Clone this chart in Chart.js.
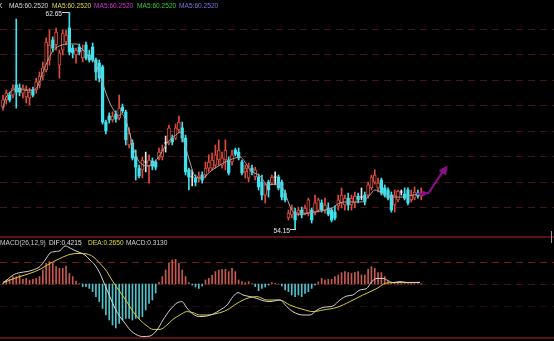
<!DOCTYPE html>
<html><head><meta charset="utf-8">
<script src="https://cdn.jsdelivr.net/npm/chart.js@4"></script>
<style>
html,body{margin:0;padding:0;background:#000;overflow:hidden}
#wrap{position:relative;width:554px;height:341px;background:#000}
#c1{position:absolute;left:0;top:0}
#c2{position:absolute;left:0;top:236px}
#tick{position:absolute;left:551px;top:231px;width:1px;height:12px;background:#9a9a9a}
</style></head><body>
<div id="wrap"><canvas id="c1" width="554" height="236"></canvas><canvas id="c2" width="554" height="105"></canvas><div id="tick"></div></div>
<script>
// ---------- data ----------
const opens = [58.93,59.21,59.40,59.40,59.80,59.68,59.48,59.33,59.29,59.60,
59.60,59.80,60.15,60.39,60.78,61.57,61.37,60.58,61.17,61.49,
62.04,61.25,60.98,61.29,60.86,61.37,60.98,61.29,60.78,60.66,
60.51,58.34,58.58,58.42,58.66,58.50,58.93,58.74,57.44,57.52,
56.97,56.53,56.46,56.77,56.61,56.81,56.77,56.93,56.97,57.52,
57.52,57.71,57.71,58.03,58.11,57.71,56.46,56.18,56.14,56.14,
56.26,56.26,56.53,56.53,56.65,56.85,56.65,56.85,56.85,56.77,
57.24,57.16,56.77,56.38,56.14,56.53,56.18,56.18,55.98,55.47,
55.98,55.94,56.18,56.18,55.98,55.55,54.57,54.69,54.80,54.76,
54.88,54.76,54.76,54.88,54.80,54.88,55.16,54.88,54.96,54.88,
54.80,55.04,55.16,55.08,55.35,55.08,55.16,55.43,55.39,55.47,
55.47,55.75,55.98,55.75,56.06,55.75,55.67,55.47,55.08,55.28,
55.59,55.51,55.67,55.28,55.35,55.55,55.43];
const closes = [59.21,59.48,59.21,59.68,59.52,59.52,59.68,59.60,59.52,59.40,
59.92,60.15,60.47,61.49,61.37,61.25,61.88,61.06,61.84,61.76,
61.10,61.06,61.17,61.10,61.17,60.86,60.78,60.78,60.31,60.07,
58.34,57.99,58.42,58.58,58.46,58.89,58.78,57.64,57.91,56.93,
56.57,56.22,56.85,56.77,56.85,56.61,56.57,57.16,57.24,57.52,
58.11,57.56,58.11,58.34,57.71,56.38,56.18,56.18,55.98,56.22,
56.06,56.53,56.77,56.85,57.05,57.24,56.93,57.24,56.34,57.05,
57.08,56.93,56.34,56.53,56.61,56.38,56.46,55.79,55.47,55.87,
55.67,56.18,56.18,55.75,55.39,55.28,54.76,54.96,54.49,54.88,
54.69,54.96,55.28,54.49,55.16,55.28,54.88,55.08,54.72,54.49,
54.57,55.28,55.47,55.35,55.08,55.35,55.43,55.28,55.39,55.20,
55.87,56.18,56.26,55.94,55.55,55.47,55.35,54.88,55.47,55.63,
55.59,55.35,55.16,55.47,55.59,55.43,55.55];
const highs = [59.40,59.60,59.52,59.80,62.39,59.84,59.80,59.76,59.68,59.72,
60.07,60.31,60.70,61.65,61.96,61.69,62.04,61.17,61.96,61.96,
62.65,61.37,61.25,61.41,61.37,61.49,61.17,61.45,60.86,60.78,
60.58,58.42,58.70,58.74,58.78,59.40,59.05,58.81,58.11,57.64,
57.24,56.65,56.97,57.16,57.05,56.93,56.85,57.32,57.44,57.79,
58.22,57.83,58.26,58.58,58.34,57.83,56.53,56.46,56.26,56.38,
56.38,56.77,57.05,57.12,57.44,57.64,57.16,57.64,56.97,57.24,
57.32,57.32,56.85,56.65,56.73,56.65,56.57,56.30,56.26,55.94,
56.06,56.26,56.38,56.26,56.06,55.67,54.88,55.08,54.96,55.00,
55.00,55.08,55.35,54.96,55.47,55.35,55.28,55.35,55.16,54.96,
55.04,55.47,55.75,55.47,55.55,55.47,55.59,55.55,55.75,55.59,
55.98,56.26,56.46,56.14,56.14,55.87,55.75,55.59,55.67,55.67,
55.67,55.75,55.75,55.67,55.79,55.67,55.75];
const lows = [58.81,59.05,59.13,59.29,58.89,59.37,59.29,59.09,59.01,59.33,
59.48,59.68,59.99,60.31,60.58,61.10,61.17,60.07,60.98,61.37,
60.98,60.86,60.66,60.98,60.70,60.78,60.70,60.70,59.99,59.92,
58.26,57.87,58.30,58.34,58.34,58.42,58.70,57.44,57.32,56.85,
56.06,56.14,56.14,56.38,55.94,56.46,56.46,56.85,56.85,57.16,
57.44,57.44,57.64,57.91,57.56,56.26,55.67,55.83,55.83,55.98,
55.94,56.14,56.38,56.46,56.53,56.65,56.53,56.46,56.26,56.65,
57.01,56.85,56.26,56.14,55.98,56.26,56.06,55.67,55.28,55.16,
55.39,55.87,55.87,55.67,55.28,55.20,54.49,54.57,54.15,54.65,
54.57,54.69,54.65,54.37,54.69,54.80,54.80,54.76,54.65,54.41,
54.49,54.88,54.96,54.88,54.88,54.88,54.96,55.16,55.28,55.08,
55.35,55.67,55.90,55.59,55.47,55.39,55.28,54.80,54.80,55.20,
55.47,55.28,55.08,55.20,55.28,55.35,55.28];

// moving average line, read at these candle positions
const maIdx = [0,0.6,2.1,4.2,6.6,9.0,10.5,11.7,13.3,14.8,16.3,17.8,19.3,20.8,22.3,23.2,24.7,26.2,27.7,29.2,30.7,32.2,33.7,34.6,35.8,37.0,38.3,39.5,40.7,42.2,43.7,44.9,46.7,48.2,49.7,50.9,52.1,53.3,54.8,56.3,57.8,59.3,60.8,62.3,63.9,65.4,66.9,68.4,69.9,71.4,72.9,74.4,77.4,79.8,81.9,83.4,84.9,87.0,88.6,90.4,91.9,95.5,99.1,101.5,104.5,108.1,110.5,112.0,114.2,116.0,119.6,123.5,125.6];
const maVal = [58.89,59.21,59.52,59.64,59.60,59.60,59.76,60.19,60.70,61.10,61.29,61.37,61.41,61.41,61.41,61.29,61.10,60.86,60.70,60.19,59.60,59.09,58.74,58.58,58.66,58.42,57.83,57.24,56.85,56.65,56.61,56.69,56.93,57.24,57.56,57.71,57.83,57.95,57.44,56.77,56.22,56.14,56.18,56.38,56.53,56.65,56.77,56.85,56.93,56.97,56.77,56.46,56.22,55.87,55.90,55.90,55.55,54.88,54.72,54.72,54.76,54.84,54.96,55.16,55.20,55.20,55.47,55.67,55.55,55.39,55.39,55.47,55.51];

// MACD
const macdHist = [0.05,0.2,0.23,0.37,0.37,0.45,0.23,0.28,0.2,0.23,
0.28,0.37,0.7,1.03,1.12,1.03,0.87,0.78,0.78,0.9,
0.53,0.37,0.15,0.02,-0.13,-0.13,-0.22,-0.38,-0.63,-0.88,
-1.22,-1.55,-1.8,-2.05,-2.2,-1.97,-1.8,-1.72,-1.72,-1.8,
-1.72,-1.72,-1.63,-1.3,-0.97,-0.8,-0.45,0.08,0.37,0.7,
1.03,1.2,1.23,1.03,0.7,0.37,0.07,-0.05,-0.15,-0.22,
-0.1,0.2,0.28,0.45,0.62,0.7,0.73,0.73,0.62,0.78,
0.62,0.2,0.12,0.07,0.12,0.02,-0.13,-0.33,-0.22,-0.15,
-0.05,0.07,0.03,0.0,-0.1,-0.3,-0.38,-0.55,-0.63,-0.55,
-0.63,-0.47,-0.38,-0.22,-0.05,0.1,0.28,0.2,0.23,0.23,
0.37,0.45,0.57,0.62,0.57,0.53,0.57,0.62,0.45,0.45,
0.73,0.87,0.78,0.57,0.57,0.37,0.12,0.03,0.05,0.05,
0.02,0.03,0.02,0.02,0.01,0.02,0.02];
const difIdx = [0,1.2,3.0,5.1,7.2,9.0,11.1,12.7,14.2,15.7,17.2,18.7,20.2,21.7,23.2,24.7,26.2,27.7,29.2,30.7,32.2,33.7,35.2,36.7,38.3,40.4,42.2,44.3,46.4,48.2,50.3,52.4,53.9,55.4,57.2,59.3,61.4,63.3,65.4,67.5,69.3,70.8,72.3,74.4,76.5,78.3,80.4,83.4,85.5,87.3,90.4,92.5,94.6,96.4,99.4,101.5,103.6,105.4,107.5,109.6,111.1,112.7,114.5,116.0,117.5,119.6,121.7,123.5,125.6];
const difVal = [0.08,0.2,0.45,0.57,0.62,0.7,0.87,1.2,1.55,1.62,1.67,1.9,1.8,1.67,1.57,1.45,1.2,0.95,0.53,-0.05,-0.63,-1.2,-1.63,-1.95,-2.3,-2.55,-2.63,-2.6,-2.3,-1.8,-1.3,-0.95,-0.88,-1.2,-1.5,-1.63,-1.6,-1.5,-1.3,-1.05,-0.63,-0.43,-0.55,-0.63,-0.72,-0.83,-0.88,-0.8,-1.13,-1.38,-1.55,-1.55,-1.3,-1.17,-1.1,-0.8,-0.6,-0.55,-0.3,-0.22,0.12,0.28,0.28,0.17,0.07,0.12,0.07,0.07,0.08];
const deaIdx = [0,2.1,5.1,8.1,11.1,14.2,17.2,20.2,23.2,25.3,27.1,29.2,31.3,33.1,35.2,37.3,39.2,41.3,43.4,45.2,47.3,49.4,51.2,53.3,55.4,57.2,59.3,61.4,64.5,67.5,70.5,73.5,76.5,79.5,83.4,86.4,90.4,93.4,96.4,100.6,104.5,108.4,112.7,115.1,117.5,120.5,125.6];
const deaVal = [0.05,0.2,0.37,0.53,0.73,1.03,1.28,1.48,1.53,1.5,1.37,1.03,0.62,0.12,-0.38,-0.88,-1.38,-1.8,-2.1,-2.27,-2.27,-2.05,-1.77,-1.55,-1.38,-1.43,-1.55,-1.55,-1.47,-1.3,-0.97,-0.72,-0.63,-0.8,-0.8,-1.05,-1.27,-1.38,-1.3,-1.17,-0.88,-0.55,-0.22,0.03,0.07,0.08,0.08];

// labels / ticks
const maLegend = ['MA5:60.2520','MA5:60.2520','MA5:60.2520','MA5:60.2520','MA5:60.2520'];
const macdLegend = ['MACD(26,12,9)','DIF:0.4215','DEA:0.2650','MACD:0.3130'];
const priceGridTicks = [62,61,60,59,58,57,56,55];
const macdGridTicks = [1.1,0,-1.1];
// forecast arrow annotation (candle index, price)
const arrowIdx = [124.7,128.2,133.3];
const arrowPrice = [55.51,55.55,56.55];

// ---------- styles ----------
const UP='#e04c3c', DN='#3fe2ee', DOJI='#e6e6e6';
const FONT='6.6px "Liberation Sans", Arial, sans-serif';

const idx = closes.map((_, i) => i);
const isUp = i => closes[i] > opens[i];
const isDown = i => closes[i] < opens[i];
const isDoji = i => closes[i] === opens[i];

const gridPlugin = {
  id:'paneGrid',
  beforeDatasetsDraw(chart, args, opts){
    const {ctx, chartArea:{left,right}, scales:{y}} = chart;
    ctx.save();
    (opts.lines||[]).forEach(l=>{
      const w = l.width||1;
      const py = Math.round(y.getPixelForValue(l.value)) + (w%2 ? 0.5 : 0);
      ctx.strokeStyle = l.color; ctx.lineWidth = w; ctx.setLineDash(l.dash||[]);
      ctx.beginPath(); ctx.moveTo(left, py); ctx.lineTo(right, py); ctx.stroke();
    });
    ctx.restore();
  }
};

const priceText = {
  id:'priceText',
  afterDraw(chart){
    const {ctx, scales:{x,y}} = chart;
    ctx.save();
    ctx.font = FONT; ctx.textBaseline='alphabetic';
    ctx.fillStyle='#e0e0e0'; ctx.fillText('K', -2, 8);
    const cols=['#d8d8d8','#e0dc3c','#d830d8','#3cc83c','#7878e0'];
    const xs=[9,52,94,137,179];
    maLegend.forEach((t,k)=>{ctx.fillStyle=cols[k]; ctx.fillText(t, xs[k], 8);});
    // high / low labels
    let hi=0, lo=0;
    idx.forEach(i=>{ if(highs[i]>highs[hi]) hi=i; if(lows[i]<lows[lo]) lo=i; });
    ctx.strokeStyle='#d0d0d0'; ctx.fillStyle='#e6e6e6'; ctx.lineWidth=1;
    const hx = Math.round(x.getPixelForValue(hi)), hy = Math.round(y.getPixelForValue(highs[hi]))+0.5;
    ctx.beginPath(); ctx.moveTo(hx-7, hy); ctx.lineTo(hx, hy); ctx.stroke();
    ctx.textAlign='right'; ctx.fillText(highs[hi].toFixed(2), hx-7, hy+3);
    const lx = Math.round(x.getPixelForValue(lo)), ly = Math.round(y.getPixelForValue(lows[lo]))+0.5;
    ctx.beginPath(); ctx.moveTo(lx-5, ly); ctx.lineTo(lx+1, ly); ctx.stroke();
    ctx.fillText(lows[lo].toFixed(2), lx-5, ly+3);
    ctx.restore();
  }
};

const arrowPlugin = {
  id:'arrow',
  afterDatasetsDraw(chart){
    const {ctx, scales:{x,y}} = chart;
    const pts = arrowIdx.map((v,k)=>[x.getPixelForValue(v), y.getPixelForValue(arrowPrice[k])]);
    ctx.save();
    ctx.strokeStyle='#8e0c8e'; ctx.fillStyle='#8e0c8e'; ctx.lineWidth=2; ctx.lineJoin='round';
    ctx.beginPath(); ctx.moveTo(pts[0][0],pts[0][1]); ctx.lineTo(pts[1][0],pts[1][1]); ctx.lineTo(pts[2][0],pts[2][1]); ctx.stroke();
    const head=(p,q,len,wid)=>{
      const a=Math.atan2(q[1]-p[1],q[0]-p[0]);
      ctx.beginPath(); ctx.moveTo(q[0],q[1]);
      ctx.lineTo(q[0]-len*Math.cos(a)+wid*Math.sin(a), q[1]-len*Math.sin(a)-wid*Math.cos(a));
      ctx.lineTo(q[0]-len*Math.cos(a)-wid*Math.sin(a), q[1]-len*Math.sin(a)+wid*Math.cos(a));
      ctx.closePath(); ctx.fill();
    };
    head(pts[0],pts[1],6,3);
    const tip=[pts[2][0]+2, pts[2][1]-2];
    head(pts[1],tip,9,4.5);
    ctx.restore();
  }
};

const macdText = {
  id:'macdText',
  afterDraw(chart){
    const {ctx} = chart;
    ctx.save(); ctx.font=FONT;
    const cols=['#c8c8c8','#e0e0e0','#e0dc3c','#d0d0d0'];
    const xs=[0,49,88,126];
    macdLegend.forEach((t,k)=>{ctx.fillStyle=cols[k]; ctx.fillText(t, xs[k], 9);});
    ctx.restore();
  }
};

const baseOpts = (ymin,ymax,lines)=>({
  responsive:false, animation:false, events:[],
  layout:{padding:0, autoPadding:false},
  plugins:{legend:{display:false}, tooltip:{enabled:false}, paneGrid:{lines}},
  scales:{
    x:{type:'linear', min:-0.9, max:166, offset:false, display:false},
    y:{type:'linear', min:ymin, max:ymax, display:false}
  }
});

// price pane
new Chart(document.getElementById('c1'), {
  type:'bar',
  data:{datasets:[
    {type:'line', data:maIdx.map((v,k)=>({x:v,y:maVal[k]})), borderColor:'#a4a4a4', borderWidth:1, pointRadius:0, cubicInterpolationMode:'monotone', order:0},
    {type:'line', showLine:false, data:idx.filter(isDoji).map(i=>({x:i,y:closes[i]})), pointStyle:'line', pointRadius:1.5, borderColor:DOJI, borderWidth:1, order:1},
    {data:idx.filter(isUp).map(i=>({x:i,y:[opens[i],closes[i]]})), backgroundColor:'#000', borderColor:UP, borderWidth:1, borderSkipped:false, barThickness:3, grouped:false, order:2},
    {data:idx.filter(isDown).map(i=>({x:i,y:[opens[i],closes[i]]})), backgroundColor:DN, borderWidth:0, barThickness:2.6, grouped:false, order:3},
    {data:idx.map(i=>({x:i,y:[lows[i],highs[i]]})), backgroundColor:idx.map(i=>isDoji(i)?DOJI:(isUp(i)?UP:DN)), borderWidth:0, barThickness:1, grouped:false, order:4}
  ]},
  options: baseOpts(53.86, 63.14, priceGridTicks.map(v=>({value:v, color:'#4a1212', dash:[7,5]}))),
  plugins:[gridPlugin, arrowPlugin, priceText]
});

// MACD pane
new Chart(document.getElementById('c2'), {
  type:'bar',
  data:{datasets:[
    {type:'line', data:difIdx.map((v,k)=>({x:v,y:difVal[k]})), borderColor:'#d4d4d4', borderWidth:1, pointRadius:0, cubicInterpolationMode:'monotone', order:0},
    {type:'line', data:deaIdx.map((v,k)=>({x:v,y:deaVal[k]})), borderColor:'#d8cc3a', borderWidth:1, pointRadius:0, cubicInterpolationMode:'monotone', order:1},
    {data:macdHist.map((v,i)=>({x:i,y:v})), backgroundColor:macdHist.map(v=>v>=0?'#c85a4e':'#4ec4cc'), borderWidth:0, barThickness:1, grouped:false, order:2}
  ]},
  options: baseOpts(-2.85, 2.4, [
    {value:2.35, color:'#5a1414', width:2},
    {value:-2.7, color:'#5a1414', width:2},
    {value:macdGridTicks[0], color:'#7a1a1a', dash:[7,5]},
    {value:macdGridTicks[1], color:'#4a1212', dash:[7,5]},
    {value:macdGridTicks[2], color:'#220a0a', dash:[7,5]}
  ]),
  plugins:[gridPlugin, macdText]
});
</script>
</body></html>
